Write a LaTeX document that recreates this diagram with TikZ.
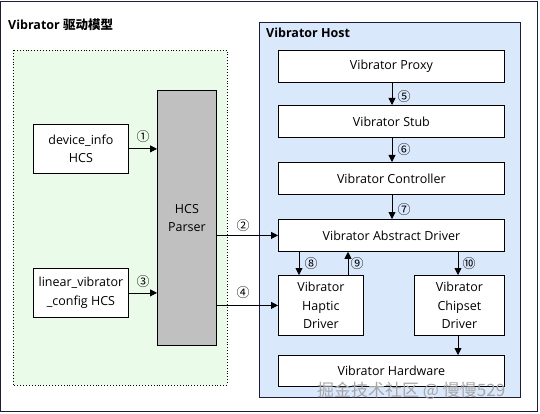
\documentclass[tikz,border=0pt]{standalone}
\usepackage{fontspec}
\setmainfont{Open Sans}
\newfontfamily\cjk{Noto Sans CJK SC}
\usetikzlibrary{arrows.meta}
\definecolor{frame}{RGB}{30,30,60}
\definecolor{greenbg}{RGB}{235,251,233}
\definecolor{bluebg}{RGB}{218,232,252}
\definecolor{parsergray}{RGB}{192,192,192}
\tikzset{
  box/.style={draw=black, fill=white, line width=0.8pt, inner sep=0pt, align=center, anchor=north west, font=\fontsize{12.5}{18.5}\selectfont},
  arr/.style={line width=0.8pt, -{Triangle[length=7pt,width=7pt]}},
  num/.style={font=\cjk\fontsize{13}{13}\selectfont, inner sep=0pt},
  region/.style={line width=0.8pt}
}
\begin{document}
\begin{tikzpicture}[x=1pt,y=-1pt]
\useasboundingbox (0,0) rectangle (540,414);
% outer frame
\draw[frame, line width=1pt, fill=white] (0.5,1.5) rectangle (537.5,411.5);
\node[anchor=west, font=\bfseries\fontsize{12.5}{14}\selectfont, inner sep=0pt] (title) at (8,25) {Vibrator {\cjk\bfseries 驱动模型}};
% green region
\draw[fill=greenbg, draw=black, dotted, line width=0.9pt] (13,50) rectangle (227,385);
% blue region
\draw[fill=bluebg, draw=frame, line width=0.9pt] (259,22) rectangle (520,397);
\node[anchor=west, font=\bfseries\fontsize{12.5}{14}\selectfont, inner sep=0pt] (hosttitle) at (266,33) {Vibrator Host};
% left boxes
\node[box, minimum width=95pt, minimum height=49pt] (dev) at (33,124) {device\_info\\HCS};
\node[box, minimum width=95pt, minimum height=49pt] (lin) at (33,268) {linear\_vibrator\\\_config HCS};
\node[box, fill=parsergray, minimum width=59pt, minimum height=255pt] (parser) at (157,90) {HCS\\Parser};
% host boxes
\node[box, minimum width=226pt, minimum height=32pt] (proxy) at (278,50) {Vibrator Proxy};
\node[box, minimum width=226pt, minimum height=32pt] (stub) at (278,105) {Vibrator Stub};
\node[box, minimum width=226pt, minimum height=32pt] (ctrl) at (278,162) {Vibrator Controller};
\node[box, minimum width=226pt, minimum height=32pt] (abs) at (278,219) {Vibrator Abstract Driver};
\node[box, minimum width=85pt, minimum height=60pt] (haptic) at (278,275) {Vibrator\\Haptic\\Driver};
\node[box, minimum width=90pt, minimum height=60pt] (chip) at (414,275) {Vibrator\\Chipset\\Driver};
\node[box, minimum width=226pt, minimum height=31pt] (hw) at (278,355) {Vibrator Hardware};
% arrows
\draw[arr] (dev.east) -- (dev.east -| parser.west);
\draw[arr] (lin.east) -- (lin.east -| parser.west);
\draw[arr] (parser.east |- abs.west) -- (abs.west);
\draw[arr] (parser.east |- haptic.west) -- (haptic.west);
\draw[arr] (proxy.south -| 392,0) -- (stub.north -| 392,0);
\draw[arr] (stub.south -| 392,0) -- (ctrl.north -| 392,0);
\draw[arr] (ctrl.south -| 392,0) -- (abs.north -| 392,0);
\draw[arr] (abs.south -| 299,0) -- (haptic.north -| 299,0);
\draw[arr] (haptic.north -| 348,0) -- (abs.south -| 348,0);
\draw[arr] (abs.south -| 458,0) -- (chip.north -| 458,0);
\draw[arr] (chip.south -| 458,0) -- (hw.north -| 458,0);
% labels
\node[num] (n1) at (143,137) {①};
\node[num] (n2) at (243,226) {②};
\node[num] (n3) at (143,282) {③};
\node[num] (n4) at (243,293) {④};
\node[num] (n5) at (404,97) {⑤};
\node[num] (n6) at (404,150) {⑥};
\node[num] (n7) at (404,210) {⑦};
\node[num] (n8) at (311,264) {⑧};
\node[num] (n9) at (357,264) {⑨};
\node[num] (n10) at (469,264) {⑩};
% watermark
\node[anchor=west, inner sep=0pt, text=black!35, font=\cjk\fontsize{17}{17}\selectfont] (wm) at (317,391) {掘金技术社区 @ 慢慢529};
\end{tikzpicture}
\end{document}
